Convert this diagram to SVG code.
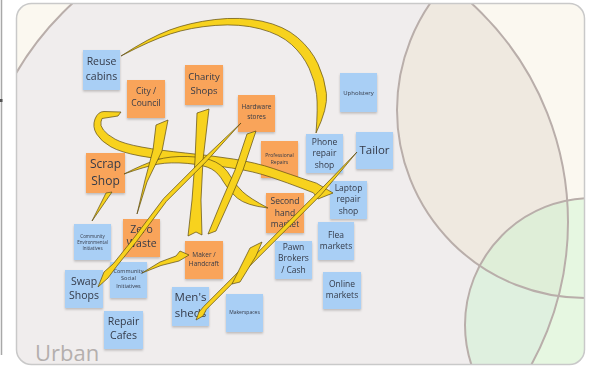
<svg xmlns="http://www.w3.org/2000/svg" width="592" height="368" viewBox="0 0 592 368">
<defs>
<style>
.b{fill:#a9cff5}
.o{fill:#f9a45a}
.n{filter:url(#sh)}
.t{font-family:"Open Sans","Noto Sans","Liberation Sans",sans-serif;fill:#343a48;text-anchor:middle}
.y{fill:#f7d21e;stroke:#5c4b12;stroke-width:0.7;stroke-linejoin:round}
.ring{fill:none;stroke:#b9aeaa;stroke-width:2}
</style>
<filter id="sh" x="-20%" y="-20%" width="140%" height="150%">
<feDropShadow dx="0" dy="1.5" stdDeviation="1" flood-color="#000" flood-opacity="0.22"/>
</filter>
<clipPath id="frame"><rect x="16.5" y="3.5" width="568" height="361" rx="15"/></clipPath>
<clipPath id="urbanClip"><circle cx="272" cy="222" r="296"/></clipPath>
</defs>
<rect width="592" height="368" fill="#ffffff"/>
<line x1="1.5" y1="0" x2="1.5" y2="355" stroke="#a8a8a8" stroke-width="1.5"/>
<rect x="0" y="99" width="2.5" height="3" fill="#555"/>
<g id="background" clip-path="url(#frame)">
<rect x="16.5" y="3.5" width="568" height="361" fill="#fbf8f0"/>
<circle cx="272" cy="222" r="296" fill="#f0eded"/>
<circle cx="585" cy="110" r="188" fill="#efe9e0" clip-path="url(#urbanClip)"/>
<circle cx="592" cy="325" r="127" fill="#c8f5cc" fill-opacity="0.42"/>
<circle cx="272" cy="222" r="296" class="ring"/>
<circle cx="585" cy="110" r="188" class="ring"/>
<circle cx="592" cy="325" r="127" class="ring" stroke="#b0a8a6"/>
<text x="35" y="361" font-family="'Open Sans','Noto Sans','Liberation Sans',sans-serif" font-size="22" fill="#b4afad">Urban</text>
</g>
<rect x="16.5" y="3.5" width="568" height="361" rx="15" fill="none" stroke="#c9c9c9" stroke-width="1.5"/>

<g id="n-reuse" class="n"><rect class="b" x="83" y="50" width="37" height="40"/><text class="t" font-size="10.5"><tspan x="101.5" y="65">Reuse</tspan><tspan x="101.5" y="79.5">cabins</tspan></text></g>
<g id="n-city" class="n"><rect class="o" x="127" y="80" width="38" height="38"/><text class="t" font-size="8.5"><tspan x="146" y="94">City /</tspan><tspan x="146" y="105.8">Council</tspan></text></g>
<g id="n-charity" class="n"><rect class="o" x="185" y="65" width="38" height="40"/><text class="t" font-size="9.5"><tspan x="204" y="80">Charity</tspan><tspan x="204" y="94">Shops</tspan></text></g>
<g id="n-hardware" class="n"><rect class="o" x="238" y="95" width="37" height="37"/><text class="t" font-size="6.5"><tspan x="256.5" y="109">Hardware</tspan><tspan x="256.5" y="118.5">stores</tspan></text></g>
<g id="n-upholstery" class="n"><rect class="b" x="340" y="73" width="37" height="39"/><text class="t" font-size="6" x="358.5" y="95">Upholstery</text></g>
<g id="n-phone" class="n"><rect class="b" x="306" y="134" width="37" height="39"/><text class="t" font-size="8.5"><tspan x="324.5" y="144.5">Phone</tspan><tspan x="324.5" y="156">repair</tspan><tspan x="324.5" y="167.5">shop</tspan></text></g>
<g id="n-tailor" class="n"><rect class="b" x="356" y="132" width="37" height="37"/><text class="t" font-size="11.5" x="374.5" y="154">Tailor</text></g>
<g id="n-profrep" class="n"><rect class="o" x="261" y="141" width="37" height="37"/><text class="t" font-size="5"><tspan x="279.5" y="156.5">Professional</tspan><tspan x="279.5" y="163.5">Repairs</tspan></text></g>
<g id="n-laptop" class="n"><rect class="b" x="330" y="181" width="37" height="38"/><text class="t" font-size="8.5"><tspan x="348.5" y="190.5">Laptop</tspan><tspan x="348.5" y="202">repair</tspan><tspan x="348.5" y="213.5">shop</tspan></text></g>
<g id="n-secondhand" class="n"><rect class="o" x="266" y="193" width="38" height="40"/><text class="t" font-size="8.5"><tspan x="285" y="204">Second</tspan><tspan x="285" y="215.5">hand</tspan><tspan x="285" y="227">market</tspan></text></g>
<g id="n-flea" class="n"><rect class="b" x="318" y="222" width="36" height="38"/><text class="t" font-size="8.5"><tspan x="336" y="237.5">Flea</tspan><tspan x="336" y="249">markets</tspan></text></g>
<g id="n-pawn" class="n"><rect class="b" x="275" y="241" width="37" height="38"/><text class="t" font-size="8.5"><tspan x="293.5" y="249.5">Pawn</tspan><tspan x="293.5" y="261">Brokers</tspan><tspan x="293.5" y="272.5">/ Cash</tspan></text></g>
<g id="n-online" class="n"><rect class="b" x="323" y="272" width="38" height="37"/><text class="t" font-size="8.5"><tspan x="342" y="286.5">Online</tspan><tspan x="342" y="298">markets</tspan></text></g>
<g id="n-scrap" class="n"><rect class="o" x="86" y="153" width="39" height="40"/><text class="t" font-size="12"><tspan x="105.5" y="168.3">Scrap</tspan><tspan x="105.5" y="184.8">Shop</tspan></text></g>
<g id="n-zero" class="n"><rect class="o" x="123" y="219" width="37" height="38"/><text class="t" font-size="10.5"><tspan x="141.5" y="232.5">Zero</tspan><tspan x="141.5" y="247">Waste</tspan></text></g>
<g id="n-commenv" class="n"><rect class="b" x="74" y="224" width="37" height="36"/><text class="t" font-size="4.5"><tspan x="92.5" y="238">Community</tspan><tspan x="92.5" y="244.2">Environmental</tspan><tspan x="92.5" y="250.4">Initiatives</tspan></text></g>
<g id="n-maker" class="n"><rect class="o" x="185" y="241" width="38" height="38"/><text class="t" font-size="6.5"><tspan x="204" y="256.5">Maker /</tspan><tspan x="204" y="265.5">Handcraft</tspan></text></g>
<g id="n-swap" class="n"><rect class="b" x="65" y="270" width="38" height="38"/><text class="t" font-size="10.5"><tspan x="84" y="284.5">Swap</tspan><tspan x="84" y="299">Shops</tspan></text></g>
<g id="n-commsoc" class="n"><rect class="b" x="110" y="262" width="37" height="36"/><text class="t" font-size="5.5"><tspan x="128.5" y="272.5">Community</tspan><tspan x="128.5" y="280.3">Social</tspan><tspan x="128.5" y="288.1">Initiatives</tspan></text></g>
<g id="n-mens" class="n"><rect class="b" x="172" y="287" width="37" height="39"/><text class="t" font-size="11.5"><tspan x="190.5" y="301">Men's</tspan><tspan x="190.5" y="316.7">sheds</tspan></text></g>
<g id="n-makerspaces" class="n"><rect class="b" x="226" y="294" width="37" height="38"/><text class="t" font-size="5" x="244.5" y="313.5">Makerspaces</text></g>
<g id="n-repair" class="n"><rect class="b" x="104" y="311" width="39" height="38"/><text class="t" font-size="10.5"><tspan x="123.5" y="324.5">Repair</tspan><tspan x="123.5" y="339">Cafes</tspan></text></g>

<g id="connectors">
<path class="y" d="M121,56 Q149.4,37.6 169.45,30.1 Q189.5,22.6 214.85,19.55 Q240.2,16.5 262.05,21.2 Q283.9,25.9 297.45,37.45 Q311,49 317.9,63.8 Q324.8,78.6 326.4,93.4 Q328,108.2 316,133 Q318,107.8 316.6,94.6 Q315.2,81.4 309.1,68.2 Q303,55 291.55,44.55 Q280.1,34.1 259.95,28.8 Q239.8,23.5 215.15,25.45 Q190.5,27.4 170.55,33.9 Q150.6,40.4 121,56 Z"/>
<path class="y" d="M121,112 L104,111.5 Q98,111.5 95,119 Q92.1,126.7 96.6,134 Q101.1,141.4 110.9,146.85 Q120.7,152.3 140,155.9 Q159.4,159.5 184.4,162 Q209.4,164.5 231.7,168 Q254,171.4 271.25,177.3 Q288.5,183.2 301,188 L313.4,192.8 L318,199 L333,193 L316.6,183.2 L304,179 Q291.5,174.8 273.75,168.7 Q256,162.6 233.3,159 Q210.6,155.5 185.6,153 Q160.6,150.5 141.95,147.1 Q123.3,143.7 115.1,139.15 Q106.9,134.6 103.4,129.95 Q99.9,125.3 101,121.9 L102,118.5 L118,116 Z"/>
<path class="y" d="M124,174 Q144.5,163.6 157,159.8 Q169.8,156 187.8,156.5 Q205.8,157.1 215.5,162 Q225.2,166.8 230.3,176 Q235.5,185.2 242.7,191.8 Q249.9,198.5 268,208 Q246.1,205.5 237.3,198.1 Q228.5,190.8 223.6,182 Q218.8,173.2 211.5,169 Q204.2,164.9 187.2,163.4 Q170.2,162 157.8,164.2 Q145.5,166.4 124,174 Z"/>
<path class="y" d="M156,125 L153,150 L145,180 L137,214 L147,182 L162,151 L168,120 Z"/>
<path class="y" d="M197,113 L195,160 L192,200 L188,236 L196,232 L202,235 L201,200 L203,160 L209,109 Z"/>
<path class="y" d="M247,134 L235,170 L222,200 L208,234 L216,231 L230,200 L243,170 L256,131 Z"/>
<path class="y" d="M241,123 L206.4,161.4 L166.4,201.4 L136.6,241.4 L116.6,266.4 L108,278 L98,287 L104,272 L113.4,263.6 L133.4,238.6 L163.6,198.6 L203.6,158.6 Z"/>
<path class="y" d="M357,152 L321.4,194.4 L286.4,229.4 L256.4,259.4 L226.4,289.4 L206.4,309.4 L203,316 L196,320 L199,312 L203.6,306.6 L223.6,286.6 L253.6,256.6 L283.6,226.6 L318.6,191.6 Z"/>
<path class="y" d="M262,242 L250,248 L232,284 L240,282 L256,256 Z"/>
<path class="y" d="M189,255 L180,251 L176,256 L160,262 L142,273 L161,265.5 L179,261 Z"/>
<path class="y" d="M106,193 L99,207 L92,221 L101,208 L112,192 Z"/>
</g>
</svg>
